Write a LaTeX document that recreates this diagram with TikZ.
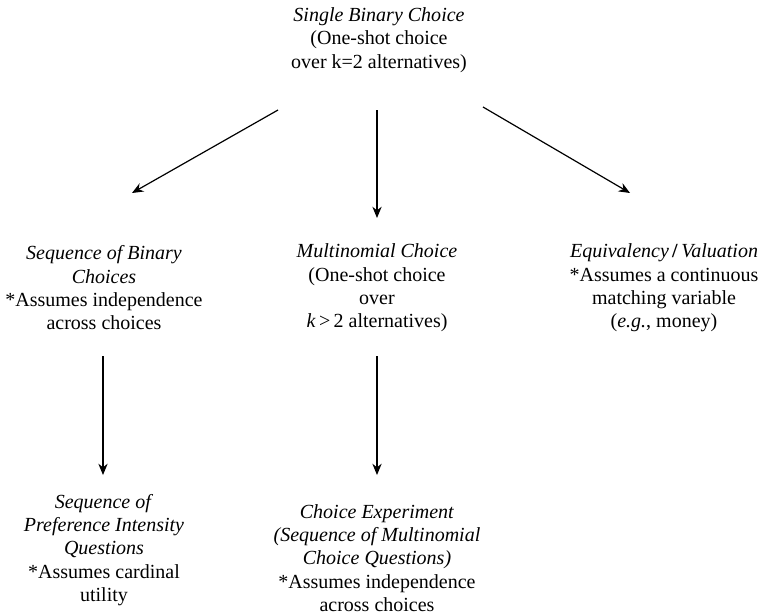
\documentclass[tikz,border=0pt]{standalone}
\usepackage{fontspec}
\setmainfont{Liberation Serif}
\usetikzlibrary{arrows.meta}

\begin{document}
\begin{tikzpicture}[x=0.75pt,y=-0.75pt,
  txt/.style={align=center, inner sep=0pt, font=\fontsize{15}{17.5}\selectfont},
  arr/.style={line width=0.9pt, -{Stealth[length=8.5pt,width=7pt]}}]
\useasboundingbox (0,0) rectangle (759,614);
\node[txt] (single) at (379,40) {\textit{Single Binary Choice}\\(One-shot choice\\over k=2 alternatives)};
\node[txt] (seqbin) at (104,288) {\textit{Sequence of Binary}\\\textit{Choices}\\*Assumes independence\\across choices};
\node[txt] (multi) at (377,288) {\textit{Multinomial Choice}\\(One-shot choice\\over\\\textit{k}\,>\,2 alternatives)};
\node[txt] (equiv) at (664,288) {\textit{Equivalency}\,\textbf{/}\,\textit{Valuation}\\*Assumes a continuous\\matching variable\\(\textit{e.g.}, money)};
\node[txt] (seqpref) at (104,550) {\textit{Sequence of}\\\textit{Preference Intensity}\\\textit{Questions}\\*Assumes cardinal\\utility};
\node[txt] (choiceexp) at (377,558) {\textit{Choice Experiment}\\\textit{(Sequence of Multinomial}\\\textit{Choice Questions)}\\*Assumes independence\\across choices};
% arrow ends
\coordinate (sl) at (278,110);
\coordinate (sm) at (377,110);
\coordinate (sr) at (483,107);
\coordinate (el) at (132,193);
\coordinate (em) at (377,218);
\coordinate (er) at (630,193);
\coordinate (bl) at (103,356);
\coordinate (bm) at (377,356);
\coordinate (tl) at (103,475);
\coordinate (tm) at (377,475);
\draw[arr] (sl) -- (el);
\draw[arr] (sm) -- (em);
\draw[arr] (sr) -- (er);
\draw[arr] (bl) -- (tl);
\draw[arr] (bm) -- (tm);
\end{tikzpicture}
\end{document}
